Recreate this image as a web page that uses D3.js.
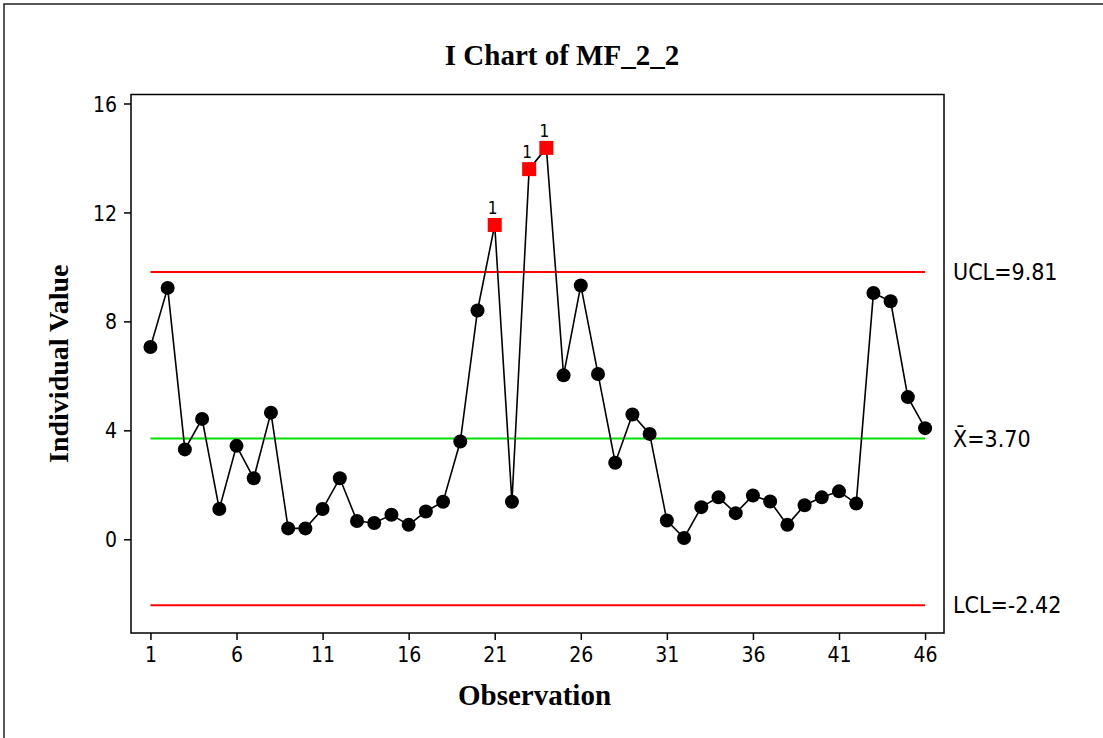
<!DOCTYPE html>
<html lang="en">

<head>
  <meta charset="UTF-8">
  <title>I Chart of MF_2_2</title>
  <script src="https://d3js.org/d3.v7.min.js"></script>
  <style>
    body { margin: 0; background: #fff; }
  </style>
</head>

<body>
  <script>
    // observation values
    let obs = d3.range(1, 47)
    let values = [7.06, 9.23, 3.30, 4.42, 1.11, 3.43, 2.24, 4.65, 0.40, 0.40,
      1.11, 2.24, 0.67, 0.60, 0.90, 0.53, 1.02, 1.38, 3.59, 8.40,
      11.54, 1.38, 13.59, 14.37, 6.02, 9.32, 6.07, 2.81, 4.58, 3.87,
      0.69, 0.05, 1.18, 1.54, 0.96, 1.61, 1.39, 0.53, 1.25, 1.54,
      1.76, 1.31, 9.04, 8.74, 5.22, 4.08]
    let xTicks = [1, 6, 11, 16, 21, 26, 31, 36, 41, 46]
    let yTicks = [0, 4, 8, 12, 16]
    let limits = [
      { name: 'UCL', label: 'UCL=9.81', value: 9.81, color: '#ff0000' },
      { name: 'CL', label: 'X\u0304=3.70', value: 3.70, color: '#00e000' },
      { name: 'LCL', label: 'LCL=-2.42', value: -2.42, color: '#ff0000' }
    ]
    let ucl = 9.81, lcl = -2.42

    let W = 1103, H = 738
    let pLeft = 131, pRight = 944, pTop = 94.5, pBottom = 633

    let svg = d3.select('body')
      .append('svg')
      .attr('width', W)
      .attr('height', H)

    // outer frame (only top and left edges show)
    svg.append('rect')
      .attr('x', 4).attr('y', 4)
      .attr('width', 1300).attr('height', 900)
      .attr('fill', 'none')
      .attr('stroke', '#222')
      .attr('stroke-width', 1.5)

    let x = d3.scaleLinear().domain([-0.13, 47.1]).range([pLeft, pRight])
    let y = d3.scaleLinear().domain([-3.44, 16.33]).range([pBottom, pTop])

    // axes
    let xAxis = d3.axisBottom(x).tickValues(xTicks).tickSize(7).tickSizeOuter(0)
    let yAxis = d3.axisLeft(y).tickValues(yTicks).tickSize(7).tickSizeOuter(0)

    let gx = svg.append('g').attr('transform', `translate(0,${pBottom})`).call(xAxis)
    let gy = svg.append('g').attr('transform', `translate(${pLeft},0)`).call(yAxis)
    gx.select('.domain').remove()
    gy.select('.domain').remove()
    ;[gx, gy].forEach(g => {
      g.selectAll('line').attr('stroke', '#000').attr('stroke-width', 1.5)
      g.selectAll('text')
        .attr('fill', '#000')
        .style('font-family', '"DejaVu Sans Condensed", "DejaVu Sans", sans-serif')
        .style('font-size', '21px')
    })
    gx.selectAll('text').attr('dy', '0.95em').attr('y', 9)
    gy.selectAll('text').attr('x', -14).attr('dy', '0.36em')

    // plot border
    svg.append('rect')
      .attr('x', pLeft).attr('y', pTop)
      .attr('width', pRight - pLeft).attr('height', pBottom - pTop)
      .attr('fill', 'none')
      .attr('stroke', '#000')
      .attr('stroke-width', 1.5)

    // control limits
    svg.selectAll('line.limit')
      .data(limits)
      .enter()
      .append('line')
      .attr('class', 'limit')
      .attr('x1', x(1)).attr('x2', x(46))
      .attr('y1', d => y(d.value)).attr('y2', d => y(d.value))
      .attr('stroke', d => d.color)
      .attr('stroke-width', 2)

    svg.selectAll('text.limit')
      .data(limits)
      .enter()
      .append('text')
      .attr('class', 'limit')
      .attr('x', pRight + 9)
      .attr('y', d => y(d.value))
      .attr('dy', '0.36em')
      .style('font-family', '"DejaVu Sans Condensed", "DejaVu Sans", sans-serif')
      .style('font-size', '23px')
      .text(d => d.label)

    // data line
    let pts = obs.map((o, i) => ({ o: o, v: values[i] }))
    let line = d3.line().x(d => x(d.o)).y(d => y(d.v))
    svg.append('path')
      .datum(pts)
      .attr('d', line)
      .attr('fill', 'none')
      .attr('stroke', '#000')
      .attr('stroke-width', 1.6)

    let out = pts.filter(d => d.v > ucl || d.v < lcl)
    let inside = pts.filter(d => d.v <= ucl && d.v >= lcl)

    svg.selectAll('circle')
      .data(inside)
      .enter()
      .append('circle')
      .attr('cx', d => x(d.o))
      .attr('cy', d => y(d.v))
      .attr('r', 7)
      .attr('fill', '#000')

    svg.selectAll('rect.out')
      .data(out)
      .enter()
      .append('rect')
      .attr('class', 'out')
      .attr('x', d => x(d.o) - 7)
      .attr('y', d => y(d.v) - 7)
      .attr('width', 14).attr('height', 14)
      .attr('fill', '#ff0000')

    svg.selectAll('text.flag')
      .data(out)
      .enter()
      .append('text')
      .attr('class', 'flag')
      .attr('x', d => x(d.o) - 2)
      .attr('y', d => y(d.v) - 11)
      .attr('text-anchor', 'middle')
      .style('font-family', '"DejaVu Sans Condensed", "DejaVu Sans", sans-serif')
      .style('font-size', '17px')
      .text('1')

    // titles
    svg.append('text')
      .attr('x', 562).attr('y', 65)
      .attr('text-anchor', 'middle')
      .style('font-family', '"Liberation Serif", "Times New Roman", serif')
      .style('font-weight', 'bold')
      .style('font-size', '29px')
      .text('I Chart of MF_2_2')

    svg.append('text')
      .attr('x', (pLeft + pRight) / 2 - 3).attr('y', 705)
      .attr('text-anchor', 'middle')
      .style('font-family', '"Liberation Serif", "Times New Roman", serif')
      .style('font-weight', 'bold')
      .style('font-size', '29px')
      .text('Observation')

    svg.append('text')
      .attr('transform', `translate(68,${(pTop + pBottom) / 2}) rotate(-90)`)
      .attr('text-anchor', 'middle')
      .style('font-family', '"Liberation Serif", "Times New Roman", serif')
      .style('font-weight', 'bold')
      .style('font-size', '28px')
      .text('Individual Value')
  </script>
</body>

</html>
